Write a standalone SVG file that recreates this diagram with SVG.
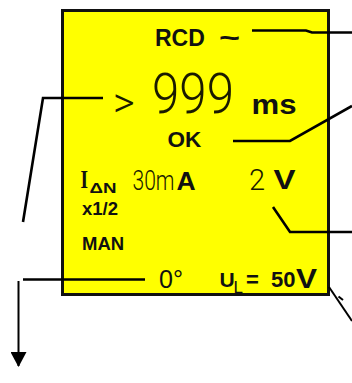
<svg xmlns="http://www.w3.org/2000/svg" width="352" height="383" viewBox="0 0 352 383">
  <style>
    .b { font-family: "Liberation Sans", Arial, sans-serif; font-weight: bold; fill: #111; }
    .r { font-family: "Liberation Sans", Arial, sans-serif; font-weight: normal; fill: #111; }
    .t { font-family: Roboto, "Liberation Sans", sans-serif; font-weight: 300; fill: #1a1a00; }
    .s { font-family: "Liberation Serif", "Times New Roman", serif; font-weight: bold; fill: #111; }
    .c { fill: none; stroke: #000; stroke-width: 2.6; stroke-linejoin: miter; }
  </style>
  <defs>
    <marker id="arrow" markerUnits="userSpaceOnUse" markerWidth="16" markerHeight="16" refX="14" refY="8" orient="auto" viewBox="0 0 16 16">
      <path d="M0,0 L15,8 L0,16 Z" fill="#000"/>
    </marker>
  </defs>
  <rect width="352" height="383" fill="#fff"/>
  <g id="display">
    <rect x="62.5" y="10.5" width="266" height="284" fill="#ffff00" stroke="#111" stroke-width="3"/>
  </g>
  <g id="connectors">
    <polyline class="c" points="252,30.5 306,30.5 312,32.5 352,32.5"/>
    <polyline class="c" points="233,141 290,141 352,106"/>
    <polyline class="c" points="273,207 290,232 352,232"/>
    <polyline class="c" points="103,98 43,98 23,222"/>
    <line class="c" x1="23" y1="279.5" x2="145" y2="279.5"/>
    <line x1="18.5" y1="281" x2="18.5" y2="366" stroke="#000" stroke-width="2" marker-end="url(#arrow)"/>
    <line x1="329" y1="287" x2="352" y2="321" stroke="#000" stroke-width="2"/>
    <line x1="338.5" y1="296.5" x2="343" y2="300" stroke="#000" stroke-width="2"/>
  </g>
  <g id="rcd">
    <text class="b" x="155" y="46" font-size="23">RCD</text>
    <text class="b" x="219" y="46.5" font-size="28" textLength="21" lengthAdjust="spacingAndGlyphs">~</text>
  </g>
  <g id="time">
    <text class="t" x="113" y="117" font-size="42">&gt;</text>
    <text class="t" x="152" y="113" font-size="55" textLength="82" lengthAdjust="spacingAndGlyphs">999</text>
    <text class="b" x="251.5" y="114" font-size="28" textLength="45" lengthAdjust="spacingAndGlyphs">ms</text>
  </g>
  <g id="ok">
    <text class="b" x="167.5" y="147" font-size="22.5">OK</text>
  </g>
  <g id="current">
    <text class="s" x="80.5" y="187.5" font-size="26" textLength="7.5" lengthAdjust="spacingAndGlyphs">I</text>
    <text class="b" x="89.5" y="193.3" font-size="15" textLength="27" lengthAdjust="spacingAndGlyphs">ΔN</text>
    <text class="t" transform="translate(132.5,189.5) scale(0.78,1)" x="0" y="0" font-size="27">30m</text>
    <text class="b" x="176.5" y="189.5" font-size="26.5">A</text>
  </g>
  <g id="voltage">
    <text class="t" x="249" y="189.5" font-size="29">2</text>
    <text class="b" x="273.5" y="189" font-size="28" textLength="22" lengthAdjust="spacingAndGlyphs">V</text>
  </g>
  <g id="multiplier">
    <text class="b" x="82" y="215" font-size="18.5">x1/2</text>
  </g>
  <g id="mode">
    <text class="b" x="82" y="250" font-size="18.5">MAN</text>
  </g>
  <g id="phase">
    <text class="r" x="159" y="288" font-size="25" textLength="24" lengthAdjust="spacingAndGlyphs">0°</text>
  </g>
  <g id="limit">
    <text class="b" x="219.5" y="287" font-size="21">U</text>
    <text class="r" x="233.5" y="292.5" font-size="17">L</text>
    <text class="b" x="246" y="287" font-size="22">=</text>
    <text class="b" x="271" y="287" font-size="22">50</text>
    <text class="b" x="296" y="287.5" font-size="27" textLength="21" lengthAdjust="spacingAndGlyphs">V</text>
  </g>
</svg>
